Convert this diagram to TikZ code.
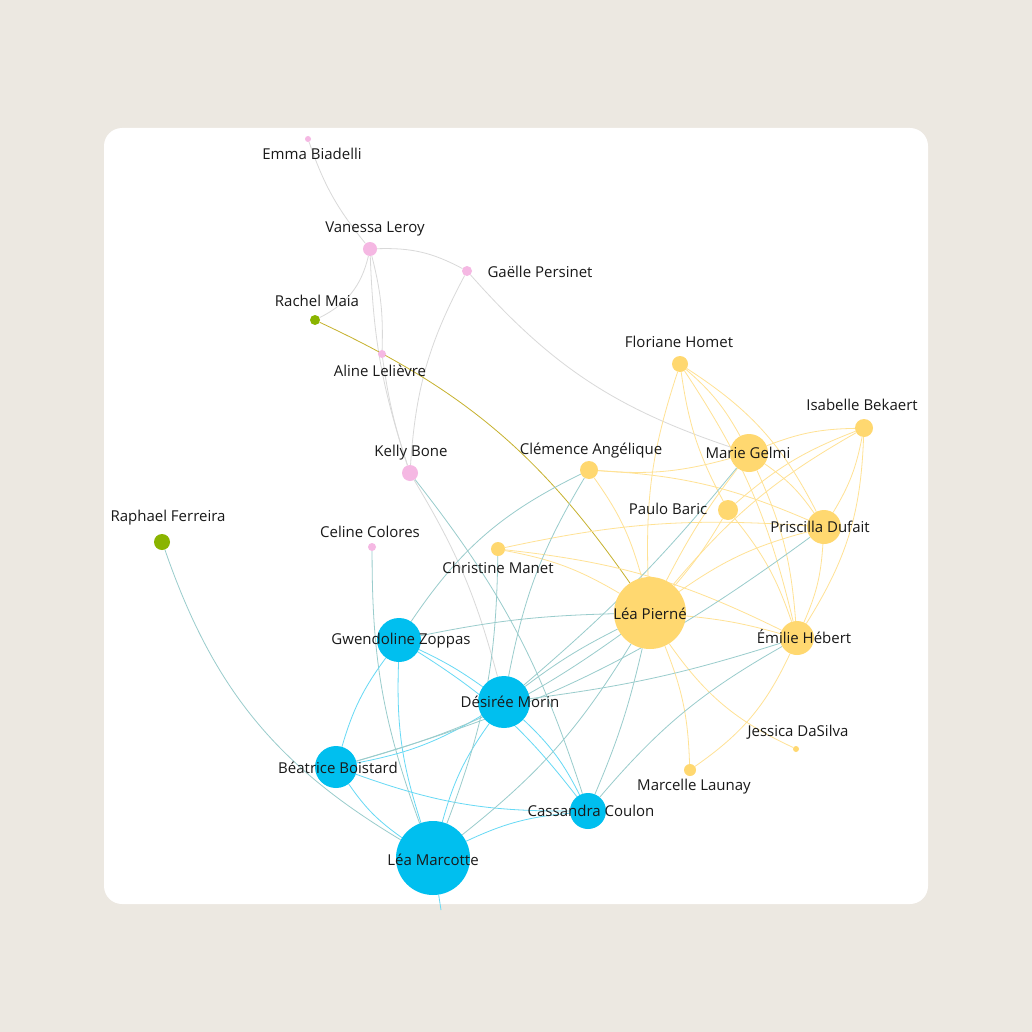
\documentclass[tikz,border=0pt]{standalone}
\usepackage{fontspec}
\setmainfont{Open Sans}
\pgfdeclarelayer{back}
\pgfdeclarelayer{edges}
\pgfsetlayers{back,edges,main}
\definecolor{bg}{HTML}{ECE8E1}
\definecolor{yel}{HTML}{FFD870}
\definecolor{blu}{HTML}{00BFEF}
\definecolor{pnk}{HTML}{F5B8E3}
\definecolor{grn}{HTML}{8AB400}
\begin{document}
\begin{tikzpicture}[x=1pt,y=-1pt,
  v/.style={circle,inner sep=0pt,draw=none},
  lab/.style={font=\fontsize{15}{17}\selectfont,text=black!90,inner sep=0pt},
  ey/.style={draw=yel!75,line width=0.8pt},
  eb/.style={draw=blu!60,line width=0.8pt},
  ep/.style={draw=black!15,line width=0.8pt},
  ex/.style={draw=teal!40,line width=0.8pt},
  eg/.style={draw=olive!50!yel,line width=0.8pt}]
\useasboundingbox (0,0) rectangle (1032,1032);
\begin{pgfonlayer}{back}
\fill[bg] (0,0) rectangle (1032,1032);
\fill[white,rounded corners=18pt] (104,128) rectangle (928,904);
\end{pgfonlayer}
\clip[rounded corners=18pt] (104,128) rectangle (928,904);
% nodes
\newcommand\nd[5]{\node[v,fill=#2,minimum size=#5pt] (#1) at (#3,#4) {};}
\nd{emma}{pnk}{308}{139}{6}
\nd{vane}{pnk}{370}{249}{14}
\nd{gael}{pnk}{467}{271}{10}
\nd{rach}{grn}{315}{320}{10}
\nd{alin}{pnk}{382}{354}{8}
\nd{flor}{yel}{680}{364}{16}
\nd{isab}{yel}{864}{428}{18}
\nd{mari}{yel}{749}{453}{38}
\nd{clem}{yel}{589}{470}{18}
\nd{kell}{pnk}{410}{473}{16}
\nd{paul}{yel}{728}{510}{20}
\nd{pris}{yel}{824}{527}{34}
\nd{raph}{grn}{162}{542}{16}
\nd{celi}{pnk}{372}{547}{8}
\nd{chri}{yel}{498}{549}{14}
\nd{lpie}{yel}{650}{613}{72}
\nd{emil}{yel}{797}{638}{34}
\nd{gwen}{blu}{399}{640}{44}
\nd{desi}{blu}{504}{702}{52}
\nd{jess}{yel}{796}{749}{6}
\nd{beat}{blu}{336}{767}{42}
\nd{marc}{yel}{690}{770}{12}
\nd{cass}{blu}{588}{811}{36}
\nd{lmar}{blu}{433}{858}{74}
\coordinate (out) at (441,910);
% labels
\node[lab] (emma-l) at (312,154) {Emma Biadelli};
\node[lab] (vane-l) at (375,229) {Vanessa Leroy};
\node[lab] (gael-l) at (540,272) {Gaëlle Persinet};
\node[lab] (rach-l) at (317,301) {Rachel Maia};
\node[lab] (alin-l) at (380,371) {Aline Lelièvre};
\node[lab] (flor-l) at (679,342) {Floriane Homet};
\node[lab] (isab-l) at (862,405) {Isabelle Bekaert};
\node[lab] (mari-l) at (748,453) {Marie Gelmi};
\node[lab] (clem-l) at (591,451) {Clémence Angélique};
\node[lab] (kell-l) at (411,453) {Kelly Bone};
\node[lab] (paul-l) at (668,509) {Paulo Baric};
\node[lab] (pris-l) at (820,527) {Priscilla Dufait};
\node[lab] (raph-l) at (168,518) {Raphael Ferreira};
\node[lab] (celi-l) at (370,532) {Celine Colores};
\node[lab] (chri-l) at (498,568) {Christine Manet};
\node[lab] (lpie-l) at (650,614) {Léa Pierné};
\node[lab] (emil-l) at (804,637) {Émilie Hébert};
\node[lab] (gwen-l) at (401,641) {Gwendoline Zoppas};
\node[lab] (desi-l) at (510,702) {Désirée Morin};
\node[lab] (jess-l) at (798,732) {Jessica DaSilva};
\node[lab] (beat-l) at (338,768) {Béatrice Boistard};
\node[lab] (marc-l) at (694,787) {Marcelle Launay};
\node[lab] (cass-l) at (591,811) {Cassandra Coulon};
\node[lab] (lmar-l) at (433,860) {Léa Marcotte};
\begin{pgfonlayer}{edges}
% pink
\draw[ep] (emma) to[bend right=10] (vane);
\draw[ep] (vane) to[bend left=15] (gael);
\draw[ep] (vane) to[bend right=8] (kell);
\draw[ep] (vane) to[bend left=8] (alin);
\draw[ep] (gael) to[bend right=12] (kell);
\draw[ep] (gael) to[bend right=15] (mari);
\draw[ep] (alin) to[bend right=5] (kell);
\draw[ep] (kell) to[bend left=8] (desi);
\draw[ex] (kell) to[bend left=10] (cass);
\draw[ex] (celi) to[bend right=10] (lmar);
\draw[ex] (raph) to[bend right=20] (lmar);
\draw[eg] (rach) to[bend left=15] (lpie);
\draw[ep] (vane) to[bend left=25] (rach);
% yellow
\draw[ey] (flor) to[bend left=10] (mari);
\draw[ey] (flor) to[bend left=15] (pris);
\draw[ey] (flor) to[bend left=10] (emil);
\draw[ey] (flor) to[bend right=10] (lpie);
\draw[ey] (flor) to[bend right=10] (paul);
\draw[ey] (isab) to[bend right=10] (mari);
\draw[ey] (isab) to[bend left=10] (pris);
\draw[ey] (isab) to[bend left=15] (emil);
\draw[ey] (isab) to[bend right=10] (lpie);
\draw[ey] (isab) to[bend right=10] (paul);
\draw[ey] (mari) to[bend left=10] (pris);
\draw[ey] (mari) to[bend left=10] (emil);
\draw[ey] (mari) to[bend right=5] (lpie);
\draw[ey] (mari) to[bend left=10] (clem);
\draw[ey] (paul) to[bend left=5] (lpie);
\draw[ey] (paul) to[bend left=10] (emil);
\draw[ey] (pris) to[bend left=10] (emil);
\draw[ey] (pris) to[bend right=10] (lpie);
\draw[ey] (pris) to[bend right=10] (clem);
\draw[ey] (emil) to[bend right=5] (lpie);
\draw[ey] (emil) to[bend left=15] (marc);
\draw[ey] (lpie) to[bend right=15] (jess);
\draw[ey] (lpie) to[bend left=10] (marc);
\draw[ey] (clem) to[bend left=10] (lpie);
\draw[ey] (chri) to[bend left=10] (lpie);
\draw[ey] (chri) to[bend left=10] (emil);
\draw[ey] (chri) to[bend left=8] (pris);
% blue
\draw[eb] (gwen) to[bend left=5] (desi);
\draw[eb] (gwen) to[bend right=10] (beat);
\draw[eb] (gwen) to[bend right=10] (lmar);
\draw[eb] (gwen) to[bend left=10] (cass);
\draw[eb] (desi) to[bend left=10] (beat);
\draw[eb] (desi) to[bend right=10] (lmar);
\draw[eb] (desi) to[bend left=10] (cass);
\draw[eb] (beat) to[bend right=10] (lmar);
\draw[eb] (beat) to[bend right=10] (cass);
\draw[eb] (lmar) to[bend left=10] (cass);
\draw[eb] (lmar) to (out);
% cross
\draw[ex] (lpie) to[bend right=5] (gwen);
\draw[ex] (lpie) to[bend right=5] (desi);
\draw[ex] (lpie) to[bend left=10] (beat);
\draw[ex] (lpie) to[bend left=5] (cass);
\draw[ex] (lpie) to[bend left=10] (lmar);
\draw[ex] (clem) to[bend right=15] (gwen);
\draw[ex] (clem) to[bend right=10] (desi);
\draw[ex] (emil) to[bend right=10] (cass);
\draw[ex] (emil) to[bend left=5] (desi);
\draw[ex] (pris) to[bend left=10] (beat);
\draw[ex] (mari) to[bend left=5] (desi);
\draw[ex] (chri) to[bend left=10] (lmar);
\end{pgfonlayer}
\end{tikzpicture}
\end{document}
